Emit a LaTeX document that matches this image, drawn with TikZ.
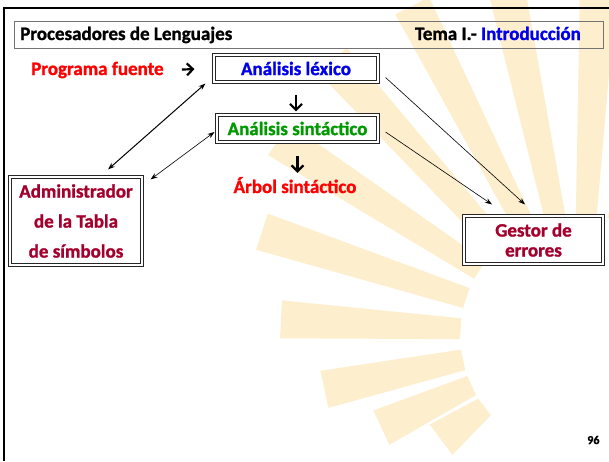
\documentclass[tikz,border=0pt]{standalone}
\usepackage{fontspec}
\setmainfont{Carlito}[BoldFeatures={FakeBold=1.2}]
\usetikzlibrary{arrows.meta}

\definecolor{rayo}{RGB}{253,238,205}
\definecolor{granate}{RGB}{165,0,45}
\definecolor{verde}{RGB}{0,153,0}
\definecolor{azul}{RGB}{0,0,235}
\definecolor{rojo}{RGB}{255,0,0}

\tikzset{
  texto/.style={font=\bfseries\fontsize{19}{23}\selectfont, inner sep=3pt},
  caja/.style={texto, draw=black!85, line width=1.1pt, double=white, double distance=1.6pt, fill=white, align=center},
  fina/.style={{Stealth[length=7pt,width=5pt]}-{Stealth[length=7pt,width=5pt]}, line width=0.6pt},
  gruesa/.style={fina, line width=1pt},
  hacia/.style={-{Stealth[length=7pt,width=5pt]}, line width=0.6pt},
  glifo/.style={-{Straight Barb[length=6pt,width=12pt]}, line width=2.2pt},
}

\begin{document}
\begin{tikzpicture}[x=1pt,y=-1pt]
      \useasboundingbox (0,0) rectangle (609,461);
      % rayos de fondo
      \foreach \a/\r in {143/175,155/220,168/262,183/300,198/335,213/360,228/370,243/370,258/370,273/370,288/370}
      \fill[rayo, shift={(580,335)}] ({\a-5}:120) -- ({\a+5}:120) -- ({\a+deg(19/\r)}:\r) -- ({\a-deg(19/\r)}:\r) -- cycle;
      % marco
      \draw[line width=2.5pt] (4,461) -- (4,8) -- (609,8);
      \node[draw=black!55, minimum width=589pt, minimum height=27pt, inner sep=0pt] (cabecera) at (308.5,34.5) {};
      \node[texto, anchor=base west] (asignatura) at (17,40) {Procesadores de Lenguajes};
      \node[texto, anchor=base east] (tema) at (584,40) {Tema I.- \textcolor{azul}{Introducción}};
      % fases
      \node[texto, text=rojo, anchor=base west] (fuente) at (28,75) {Programa fuente};
      \node[caja, text=azul, minimum width=164pt, minimum height=27pt] (lexico) at (296,68.5) {Análisis léxico};
      \node[caja, text=verde, minimum width=161pt, minimum height=27pt] (sintactico) at (297.5,128.5) {Análisis sintáctico};
      \node[texto, text=rojo, anchor=base] (arbol) at (295,193) {Árbol sintáctico};
      \node[caja, text=granate, minimum width=132pt, minimum height=88pt, font=\bfseries\fontsize{19}{30}\selectfont] (tabla) at (76,221) {Administrador\\de la Tabla\\de símbolos};
      \node[caja, text=granate, minimum width=139pt, minimum height=48pt, font=\bfseries\fontsize{19}{20}\selectfont] (gestor) at (533.5,240) {Gestor de\\errores};
      \node[font=\bfseries\fontsize{12}{14}\selectfont, anchor=base east] (pagina) at (603,444) {96};
      % flechas
      \draw[glifo, shorten <=15pt, shorten >=19pt] (fuente.east) -- (lexico.west);
      \draw[glifo, shorten <=12pt, shorten >=3pt] (lexico.south) -- (lexico.south |- sintactico.north);
      \draw[glifo, shorten <=13pt, shorten >=1pt] (sintactico.south) -- (sintactico.south |- arbol.north);
      \draw[gruesa] ([shift={(32pt,7pt)}]tabla.north) -- ([shift={(-8pt,-1pt)}]lexico.south west);
      \draw[fina] ([shift={(8pt,-3pt)}]tabla.north east) -- ([shift={(-2pt,-3.5pt)}]sintactico.west);
      \draw[hacia] ([shift={(7pt,-9pt)}]lexico.east) -- ([shift={(-8.5pt,11pt)}]gestor.north);
      \draw[hacia] ([shift={(7pt,-3.5pt)}]sintactico.east) -- ([shift={(-41.5pt,11pt)}]gestor.north);
\end{tikzpicture}
\end{document}
